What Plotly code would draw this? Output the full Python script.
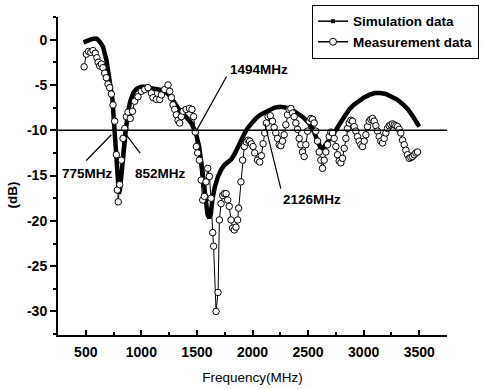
import plotly.graph_objects as go

# ---------------- data ----------------
sim_freq = [480, 510, 540, 570, 600, 630, 655, 685, 715, 740,
            752, 762, 775, 788, 798, 808, 820, 840, 860, 880,
            900, 930, 960, 1000, 1050, 1100, 1150, 1200, 1250, 1300,
            1350, 1400, 1450, 1490, 1520, 1550, 1575, 1595, 1610, 1625,
            1640, 1660, 1690, 1720, 1750, 1780, 1810, 1840, 1870, 1900,
            1930, 1960, 1990, 2030, 2070, 2110, 2150, 2200, 2250, 2300,
            2350, 2400, 2450, 2500, 2530, 2560, 2590, 2615, 2640, 2665,
            2690, 2720, 2750, 2790, 2830, 2870, 2910, 2950, 3000, 3050,
            3100, 3150, 3200, 3250, 3300, 3350, 3400, 3450, 3500]
sim_db = [-0.3, -0.1, 0.0, 0.1, 0.1, -0.3, -0.8, -2.2, -4.4, -6.6,
          -8.8, -10.4, -12.5, -15.5, -17.0, -16.5, -14.7, -12.0, -10.0, -8.0,
          -6.8, -5.8, -5.4, -5.2, -5.2, -5.4, -5.5, -5.6, -6.1, -7.0,
          -7.9, -8.5, -9.2, -10.3, -11.8, -14.5, -17.3, -19.3, -19.7, -19.2,
          -17.6, -16.3, -15.1, -14.3, -13.8, -13.5, -13.2, -12.6, -11.8, -11.0,
          -10.3, -9.7, -9.2, -8.7, -8.3, -8.0, -7.8, -7.5, -7.4, -7.5,
          -7.7, -8.1, -8.5, -9.1, -9.6, -10.4, -11.4, -12.0, -11.9, -11.5,
          -11.0, -10.5, -10.0, -9.2, -8.4, -7.7, -7.2, -6.8, -6.4, -6.1,
          -5.9, -5.9, -6.0, -6.3, -6.6, -7.1, -7.7, -8.6, -9.6]

meas_freq = [485, 505, 525, 545, 565, 585, 600, 612, 625, 640,
             655, 670, 685, 700, 715, 730, 745, 760, 775, 784,
             792, 805, 820, 835, 850, 865, 880, 900, 920, 940,
             970, 1000, 1030, 1060, 1090, 1105, 1135, 1165, 1180, 1210,
             1240, 1255, 1270, 1285, 1300, 1315, 1330, 1345, 1360, 1375,
             1403, 1433, 1455, 1470, 1485, 1495, 1507, 1522, 1538, 1552,
             1567, 1582, 1597, 1612, 1627, 1642, 1650, 1672, 1690, 1702,
             1717, 1732, 1747, 1762, 1777, 1791, 1807, 1821, 1836, 1851,
             1866, 1875, 1896, 1911, 1926, 1945, 1960, 1975, 1990, 2005,
             2020, 2045, 2065, 2080, 2095, 2110, 2125, 2140, 2160, 2180,
             2195, 2210, 2225, 2240, 2255, 2270, 2285, 2300, 2315, 2330,
             2345, 2360, 2375, 2390, 2405, 2420, 2435, 2450, 2465, 2480,
             2495, 2510, 2525, 2540, 2555, 2570, 2585, 2600, 2615, 2630,
             2645, 2660, 2675, 2690, 2705, 2720, 2735, 2750, 2765, 2780,
             2795, 2810, 2825, 2840, 2855, 2870, 2885, 2900, 2915, 2930,
             2945, 2960, 2975, 2990, 3005, 3020, 3035, 3050, 3065, 3080,
             3095, 3110, 3125, 3140, 3155, 3170, 3185, 3200, 3215, 3230,
             3245, 3260, 3275, 3290, 3305, 3320, 3335, 3350, 3365, 3380,
             3395, 3410, 3425, 3440, 3455, 3470, 3485]
meas_db = [-3.0, -1.6, -1.3, -1.4, -1.2, -1.5, -2.0, -2.5, -2.9, -2.7,
           -3.1, -3.7, -4.2, -4.9, -5.3, -6.0, -7.2, -9.0, -12.7, -16.6,
           -17.9, -16.0, -13.3, -10.9, -9.8, -8.5, -8.0, -8.7, -7.9, -6.8,
           -6.3, -5.7, -5.5, -5.3, -5.9, -6.4, -6.6, -6.6, -6.1, -5.5,
           -5.0, -5.7, -6.4, -7.2, -7.7, -8.3, -8.9, -9.2, -8.5, -7.9,
           -7.7, -7.6, -7.7, -8.5, -10.2, -11.8, -12.5, -13.3, -15.5, -17.7,
           -17.3, -15.7, -14.2, -15.1, -17.5, -21.3, -22.8, -30.0, -27.9, -19.9,
           -18.1, -17.2, -17.0, -17.0, -17.7, -18.4, -19.9, -20.8, -21.0, -20.7,
           -19.9, -18.6, -15.7, -13.3, -11.8, -11.3, -11.1, -11.2, -11.5, -11.8,
           -12.5, -13.3, -13.5, -12.8, -11.5, -10.3, -9.2, -8.5, -8.4, -9.0,
           -9.7, -10.3, -10.9, -11.6, -11.7, -11.2, -10.5, -9.4, -8.3, -7.7,
           -7.6, -8.1, -8.5, -9.2, -9.9, -10.9, -11.6, -12.4, -12.9, -11.6,
           -10.1, -9.0, -8.7, -8.8, -9.2, -10.1, -11.2, -12.4, -13.3, -14.2,
           -13.3, -12.4, -11.6, -10.7, -10.2, -10.3, -10.9, -11.8, -12.7, -13.4,
           -13.6, -13.1, -12.0, -10.9, -9.8, -9.2, -8.9, -9.0, -9.6, -10.1,
           -10.7, -11.2, -11.6, -11.8, -11.2, -10.5, -9.6, -9.0, -8.8, -8.7,
           -9.0, -9.5, -10.1, -10.7, -11.2, -11.4, -10.9, -10.3, -9.8, -9.5,
           -9.4, -9.3, -9.4, -9.5, -9.6, -9.9, -10.3, -11.1, -11.6, -12.2,
           -12.7, -13.1, -13.0, -12.9, -12.7, -12.5, -12.4]

threshold_db = -10
x_ticks = [500, 1000, 1500, 2000, 2500, 3000, 3500]
y_ticks = [0, -5, -10, -15, -20, -25, -30]

assert len(sim_freq) == len(sim_db), (len(sim_freq), len(sim_db))
assert len(meas_freq) == len(meas_db), (len(meas_freq), len(meas_db))

BOLD = "Liberation Sans"

fig = go.Figure()

# simulation (thick line)
fig.add_trace(go.Scatter(x=sim_freq, y=sim_db, mode="lines",
                         line=dict(color="black", width=4.5),
                         showlegend=False, hoverinfo="skip"))
# measurement (open circles)
fig.add_trace(go.Scatter(x=meas_freq, y=meas_db, mode="lines+markers",
                         line=dict(color="black", width=1),
                         marker=dict(symbol="circle", size=6.5, color="white",
                                     line=dict(color="black", width=1)),
                         showlegend=False, hoverinfo="skip"))
# legend-only entries
fig.add_trace(go.Scatter(x=[None], y=[None], mode="lines+markers",
                         name="<b>Simulation data</b>",
                         line=dict(color="black", width=1.5),
                         marker=dict(symbol="square", size=4, color="black")))
fig.add_trace(go.Scatter(x=[None], y=[None], mode="lines+markers",
                         name="<b>Measurement data</b>",
                         line=dict(color="black", width=1.5),
                         marker=dict(symbol="circle", size=7, color="white",
                                     line=dict(color="black", width=1))))

# -10 dB reference line
fig.add_shape(type="line", xref="x", yref="y", x0=250, x1=3790,
              y0=threshold_db, y1=threshold_db,
              line=dict(color="black", width=1.5))

anns = []
# arrows (no text)
arrow_specs = [
    (730, -10.5, 491, -13.5),
    (850, -10.3, 1000, -12.7),
    (1493, -10.1, 1774, -3.9),
    (2112, -9.3, 2258, -16.6),
]
for x, y, ax, ay in arrow_specs:
    anns.append(dict(x=x, y=y, ax=ax, ay=ay, xref="x", yref="y",
                     axref="x", ayref="y", text="", showarrow=True,
                     arrowhead=0, arrowwidth=1.2, arrowcolor="black"))
# labels
label_specs = [
    ("775MHz", 513, -14.8),
    ("852MHz", 1173, -14.8),
    ("1494MHz", 2056, -3.3),
    ("2126MHz", 2536, -17.6),
]
for t, x, y in label_specs:
    anns.append(dict(x=x, y=y, xref="x", yref="y", text="<b>%s</b>" % t,
                     showarrow=False, font=dict(family=BOLD, size=13.5, color="black"),
                     xanchor="center", yanchor="middle"))
# y-axis title
anns.append(dict(x=-0.117, y=0.44, xref="paper", yref="paper", text="<b>(dB)</b>",
                 showarrow=False, textangle=-90,
                 font=dict(family=BOLD, size=13.5, color="black"),
                 xanchor="center", yanchor="middle"))

fig.update_layout(
    width=484, height=389,
    margin=dict(l=58, r=37, t=17, b=54, autoexpand=False),
    paper_bgcolor="white", plot_bgcolor="white",
    annotations=anns,
    showlegend=True,
    legend=dict(x=0.653, y=1.038, xanchor="left", yanchor="top",
                bgcolor="white", bordercolor="black", borderwidth=1,
                font=dict(family=BOLD, size=13.5, color="black"),
                tracegroupgap=0, itemwidth=30),
)
fig.update_xaxes(
    range=[250, 3750], tickvals=x_ticks,
    ticktext=["<b>%d</b>" % v for v in x_ticks],
    ticks="inside", ticklen=5, tickwidth=1.5, tickcolor="black",
    minor=dict(dtick=250, tick0=250, ticks="inside", ticklen=3, tickcolor="black"),
    showline=True, linewidth=2, linecolor="black", mirror=False,
    showgrid=False, zeroline=False,
    tickfont=dict(family=BOLD, size=14, color="black"),
    ticklabelstandoff=3,
    title=dict(text="Frequency(MHz)", font=dict(family="Liberation Sans", size=13.5, color="black"),
               standoff=14),
)
fig.update_yaxes(
    range=[-32.6, 2.5], tickvals=y_ticks,
    ticktext=["<b>%d</b>" % v for v in y_ticks],
    ticks="outside", ticklen=6, tickwidth=1.5, tickcolor="black",
    minor=dict(dtick=2.5, tick0=0, ticks="outside", ticklen=3, tickcolor="black"),
    showline=True, linewidth=2, linecolor="black", mirror=False,
    showgrid=False, zeroline=False,
    tickfont=dict(family=BOLD, size=14, color="black"),
)

fig.write_html("out.html")
